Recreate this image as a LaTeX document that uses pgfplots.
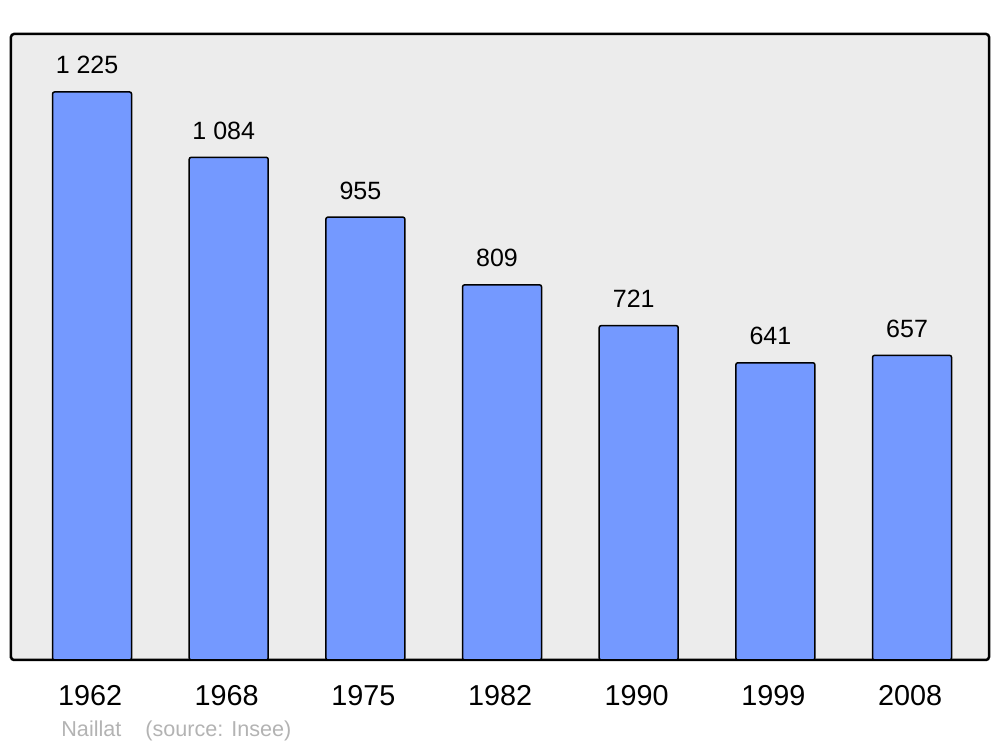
\documentclass[border=0pt]{standalone}
\usepackage{fontspec}
\setmainfont{Liberation Sans}
\usepackage{pgfplots}
\pgfplotsset{compat=1.18}
\definecolor{barblue}{HTML}{7499FF}
\definecolor{bgray}{HTML}{ECECEC}
\definecolor{foot}{HTML}{B3B3B3}
\begin{document}
\begin{tikzpicture}
\begin{axis}[
  name=ax,
  scale only axis,
  width=489pt, height=313pt,
  xmin=-0.593, xmax=6.563,
  ymin=0, ymax=1350,
  ytick=\empty,
  xtick={0,1,2,3,4,5,6},
  xticklabels={1962,1968,1975,1982,1990,1999,2008},
  major tick length=0pt,
  xticklabel style={font=\fontsize{14.4}{16}\selectfont, anchor=base, yshift=-23pt, xshift=-1pt},
  axis line style={line width=1.25pt, rounded corners=1.5pt},
  axis background/.style={fill=bgray, rounded corners=1.5pt},
  ybar,
  bar width=39.5pt,
  point meta=explicit symbolic,
  nodes near coords,
  nodes near coords style={font=\fontsize{12.5}{14}\selectfont, anchor=base, yshift=9pt, xshift=-2.5pt, text=black},
  clip=false,
]
\addplot[fill=barblue, draw=black, line width=0.75pt, rounded corners=1pt] coordinates {
  (0,1225) [1 225]
  (1,1084) [1 084]
  (2,955) [955]
  (3,809) [809]
  (4,721) [721]
  (5,641) [641]
  (6,657) [657]
};
\end{axis}
\node[anchor=base west, inner sep=0pt, text=foot, font=\fontsize{10.8}{12}\selectfont] at ([shift={(25pt,-38.5pt)}]ax.south west) {Naillat\hspace{12pt}(source: Insee)};
\pgfresetboundingbox
\path ([shift={(-5.5pt,-43.5pt)}]ax.south west) rectangle ([shift={(5.5pt,17pt)}]ax.north east);
\end{tikzpicture}
\end{document}
